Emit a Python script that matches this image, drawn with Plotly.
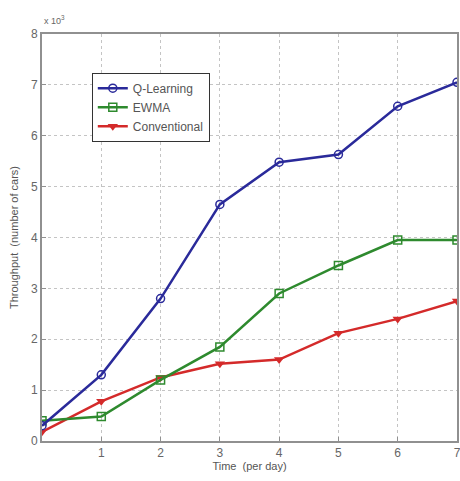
import plotly.graph_objects as go

days = [0, 1, 2, 3, 4, 5, 6, 7]
q_learning = [0.30, 1.30, 2.80, 4.65, 5.48, 5.63, 6.58, 7.05]
ewma = [0.40, 0.48, 1.20, 1.85, 2.90, 3.45, 3.95, 3.95]
conventional = [0.18, 0.78, 1.25, 1.52, 1.60, 2.12, 2.40, 2.75]
x_ticks = [1, 2, 3, 4, 5, 6, 7]
y_ticks = [0, 1, 2, 3, 4, 5, 6, 7, 8]

FONT = "Liberation Sans, Arial"

fig = go.Figure()
fig.add_trace(go.Scatter(x=days, y=conventional, name="Conventional", mode="lines+markers",
                         line=dict(color="#d42a2a", width=2.5),
                         marker=dict(symbol="triangle-down", size=9, color="#d42a2a")))
fig.add_trace(go.Scatter(x=days, y=ewma, name="EWMA", mode="lines+markers",
                         line=dict(color="#2e8a2e", width=2.5),
                         marker=dict(symbol="square-open", size=8, color="#2e8a2e", line=dict(width=1.5))))
fig.add_trace(go.Scatter(x=days, y=q_learning, name="Q-Learning", mode="lines+markers",
                         line=dict(color="#2a2a9a", width=2.5),
                         marker=dict(symbol="circle-open", size=8, color="#2a2a9a", line=dict(width=1.5))))

axis_common = dict(showgrid=True, gridcolor="#c4c4c4", griddash="dot", gridwidth=1,
                   showline=True, linecolor="#909090", linewidth=2, mirror=True,
                   ticks="inside", ticklen=4, tickcolor="#909090", zeroline=False,
                   automargin=False, ticklabeloverflow="allow",
                   tickfont=dict(family=FONT, size=12, color="#666"))

fig.update_layout(
    width=460, height=481,
    margin=dict(l=42, r=3, t=34, b=40, autoexpand=False),
    plot_bgcolor="white", paper_bgcolor="white",
    showlegend=True,
    legend=dict(x=0.12, y=0.905, xanchor="left", yanchor="top", traceorder="reversed",
                bordercolor="#333", borderwidth=1, bgcolor="white",
                font=dict(family=FONT, size=12, color="#555"),
                itemwidth=30, tracegroupgap=0),
    xaxis=dict(range=[0, 7], tickvals=x_ticks,
               title=dict(text="Time  (per day)", font=dict(family=FONT, size=11, color="#555"), standoff=2),
               **axis_common),
    yaxis=dict(range=[0, 8], tickvals=y_ticks,
               title=dict(text="Throughput  (number of cars)", font=dict(family=FONT, size=11, color="#555"), standoff=10),
               **axis_common),
)
fig.add_annotation(text="x 10<sup>3</sup>", xref="paper", yref="paper", x=0.0, y=1.0,
                   xanchor="left", yanchor="bottom", showarrow=False, yshift=6,
                   font=dict(family=FONT, size=9, color="#666"))

fig.write_html("out.html", config={"displayModeBar": False},
               post_script="document.body.style.margin='0';document.body.style.overflow='hidden';")
